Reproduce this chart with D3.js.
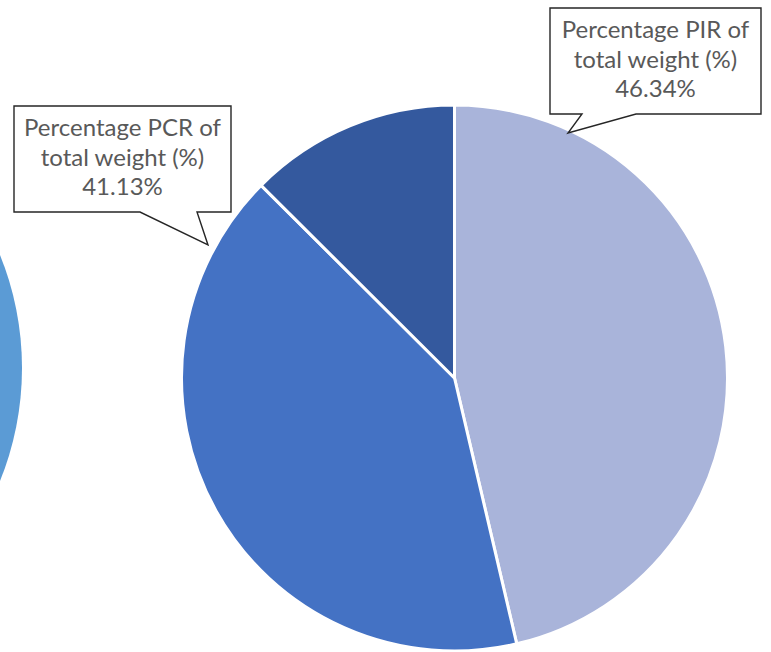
<!DOCTYPE html>
<html>
<head>
<meta charset="utf-8">
<script src="https://cdn.jsdelivr.net/npm/d3@7"></script>
<style>
  html, body { margin: 0; padding: 0; background: #fff; }
  svg { display: block; }
</style>
</head>
<body>
<svg id="chart" width="771" height="652"></svg>
<script>
// data
const categories = ["Percentage PIR of total weight (%)", "Percentage PCR of total weight (%)", "Other"];
const values = [46.34, 41.13, 12.53];
const sliceColors = ["#A9B4DA", "#4472C4", "#34599E"];
// neighbouring pie, only its right rim is in view
const leftValues = [100];
const leftColors = ["#5B9BD5"];

const svg = d3.select("#chart");
const rows = categories.map((c, i) => ({ name: c, value: values[i], color: sliceColors[i] }));

const pie = d3.pie().sort(null).value(d => d.value);
const cx = 454.5, cy = 378, radius = 273;

const arc = d3.arc().innerRadius(0).outerRadius(radius);

svg.append("g")
  .attr("class", "pie")
  .attr("transform", `translate(${cx},${cy})`)
  .selectAll("path")
  .data(pie(rows))
  .enter()
  .append("path")
  .attr("d", arc)
  .attr("fill", d => d.data.color)
  .attr("stroke", "#fff")
  .attr("stroke-width", 3)
  .attr("stroke-linejoin", "round");

// the cut-off pie at the left edge
const leftArc = d3.arc().innerRadius(0).outerRadius(301);
svg.append("g")
  .attr("transform", "translate(-279,368)")
  .selectAll("path")
  .data(d3.pie().sort(null)(leftValues))
  .enter()
  .append("path")
  .attr("d", leftArc)
  .attr("fill", (d, i) => leftColors[i]);

// callout boxes (layout only)
const callouts = [
  { idx: 0, x0: 550, y0: 8, x1: 761, y1: 114, baseL: 582, baseR: 636, tip: [568, 133] },
  { idx: 1, x0: 14, y0: 106, x1: 231, y1: 212, baseL: 140, baseR: 197, tip: [208, 245] }
];

const fmt = d3.format(".2f");

const labels = svg.append("g").attr("class", "labels");
callouts.forEach(c => {
  const row = rows[c.idx];
  const path = d3.path();
  path.moveTo(c.x0, c.y0);
  path.lineTo(c.x1, c.y0);
  path.lineTo(c.x1, c.y1);
  path.lineTo(c.baseR, c.y1);
  path.lineTo(c.tip[0], c.tip[1]);
  path.lineTo(c.baseL, c.y1);
  path.lineTo(c.x0, c.y1);
  path.closePath();

  labels.append("path")
    .attr("d", path.toString())
    .attr("fill", "#fff")
    .attr("stroke", "#262626")
    .attr("stroke-width", 1.4)
    .attr("stroke-linejoin", "miter");

  // split "Percentage PIR of total weight (%)" into two lines like excel does
  const words = row.name.split(" ");
  const lines = [words.slice(0, 3).join(" "), words.slice(3).join(" "), fmt(row.value) + "%"];
  const mid = (c.x0 + c.x1) / 2;

  labels.append("text")
    .attr("text-anchor", "middle")
    .attr("font-family", "Lato, 'Open Sans', sans-serif")
    .attr("font-size", 24)
    .attr("fill", "#595959")
    .selectAll("tspan")
    .data(lines)
    .enter()
    .append("tspan")
    .attr("x", mid)
    .attr("y", (d, i) => c.y0 + 30 + i * 29.5)
    .text(d => d);
});
</script>
</body>
</html>
